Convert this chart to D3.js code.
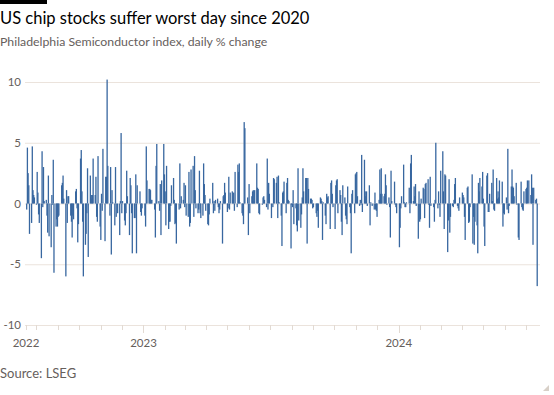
<!DOCTYPE html>
<html>
<head>
<meta charset="utf-8">
<script src="https://cdn.jsdelivr.net/npm/d3@7/dist/d3.min.js"></script>
<style>
  body { margin: 0; background: #fff; }
  svg { display: block; font-family: Lato, 'Open Sans', sans-serif; }
</style>
</head>
<body>
<script>
// chart texts
var title = 'US chip stocks suffer worst day since 2020',
    subtitle = 'Philadelphia Semiconductor index, daily % change',
    source = 'Source: LSEG';

// first trading day shown and the market holidays inside the range
var startDay = '2022-07-18';
var holidays = [
    '2022-09-05', '2022-11-24', '2022-12-26',
    '2023-01-02', '2023-01-16', '2023-02-20', '2023-04-07', '2023-05-29',
    '2023-06-19', '2023-07-04', '2023-09-04', '2023-11-23', '2023-12-25',
    '2024-01-01', '2024-01-15', '2024-02-19', '2024-03-29', '2024-05-27',
    '2024-06-19', '2024-07-04'
];
var dateDomain = ['2022-07-17', '2024-07-21'];

var yTicks = [-10, -5, 0, 5, 10];
var yearTicks = [
    {date: '2022-07-17', label: '2022'},
    {date: '2023-01-01', label: '2023'},
    {date: '2024-01-01', label: '2024'}
];

// daily % change, one per trading day
var dailyChange = [
    -0.5,4.6,2.5,1.5,-2.5,-1.6,4.7,1.1,0.7,0.5,
    -0.1,2.6,0.9,-0.9,-1.6,-4.5,4.3,-0.3,3.0,0.2,
    0.3,-1.0,-2.4,2.3,-2.7,-3.6,0.7,-0.1,3.6,-5.7,
    -1.9,-1.3,-1.9,-1.1,-1.0,1.5,1.7,2.3,0.4,-6.0,
    1.1,-1.6,0.6,0.6,-1.0,-1.5,-2.8,-1.0,-1.3,1.0,
    1.2,-0.4,-3.2,-1.7,3.7,4.4,1.0,-1.5,-6.0,-3.4,
    -2.5,-0.8,2.9,-4.4,2.3,0.4,0.7,0.7,3.7,0.7,
    2.2,-1.1,-1.5,3.9,-1.9,-3.0,0.8,-0.6,4.5,-3.1,
    2.2,2.2,10.2,3.1,-1.0,3.0,-4.2,1.1,0.1,-1.8,
    3.0,-1.1,-0.8,-2.6,0.2,5.8,-0.8,0.2,-1.4,-1.8,
    -0.8,2.7,0.6,-2.6,2.1,1.5,-0.8,-4.1,-1.2,-1.2,
    2.4,-4.1,1.5,1.0,-0.7,-1.0,-0.4,-1.0,-1.9,4.7,
    1.9,1.2,1.2,1.1,0.3,0.3,-0.5,-2.8,3.1,4.9,
    0.2,-0.6,1.6,-2.6,1.9,4.9,2.4,1.0,-1.8,3.1,
    -2.1,-1.5,-1.5,-0.2,1.5,2.1,0.3,-1.7,-1.6,-3.3,
    -0.5,3.3,-0.4,0.6,0.3,1.7,-0.3,1.5,-1.0,-1.1,
    2.6,-1.9,-1.6,2.8,3.1,-1.1,3.9,1.1,-0.4,-0.8,
    -0.5,2.7,-0.8,-1.2,-1.0,3.3,1.6,0.7,-0.6,-1.7,
    -1.8,-0.9,0.4,1.7,-0.8,0.2,-0.6,0.3,0.4,-0.3,
    -0.8,-0.5,0.2,-3.3,0.6,0.7,1.7,0.9,-0.7,-0.4,
    2.2,-0.5,0.9,1.0,0.3,0.9,-0.6,2.6,-0.3,3.2,
    2.6,3.3,0.1,-0.8,-1.0,-1.7,6.7,6.2,0.5,-2.6,
    1.6,-0.8,0.6,1.0,1.1,0.2,1.1,3.3,1.3,1.2,
    -0.8,-0.9,-0.1,0.5,0.6,0.3,-0.3,3.7,
    -0.5,1.7,0.8,-1.2,-0.3,2.1,2.0,1.7,2.2,-1.2,
    2.3,0.1,-1.0,-3.5,0.9,1.0,1.8,-0.8,1.7,2.1,
    0.3,0.2,-3.7,-0.1,-0.3,1.1,-1.7,-0.4,-1.8,-2.3,
    2.9,-1.4,-2.0,-0.9,0.5,2.9,1.0,2.1,2.1,-3.3,
    2.1,1.2,0.4,0.4,0.3,-0.4,-0.3,-0.8,-1.1,-0.6,
    -2.0,0.5,0.4,0.2,-3.0,0.1,-1.0,-1.7,0.8,0.5,
    0.6,-2.1,1.7,1.9,0.8,-0.3,-2.1,1.5,1.9,2.0,
    -0.8,1.1,0.7,-1.5,-2.6,1.5,0.5,-1.0,-1.3,-1.7,
    1.4,-0.3,-0.8,-4.1,0.8,1.1,-0.8,2.4,2.5,2.6,
    0.6,-0.2,0.3,-0.1,4.0,-0.7,3.6,1.0,0.6,1.0,
    -0.2,1.5,-1.8,0.1,-0.2,-0.5,0.9,-0.5,-0.6,-1.1,
    0.3,2.8,0.8,2.9,0.8,0.6,0.8,2.4,1.5,-0.1,
    0.5,-0.3,-2.8,2.7,0.2,1.8,-0.1,-0.3,-0.8,-3.6,
    -2.0,-0.4,0.6,3.2,0.1,-0.3,-0.3,0.1,1.3,-0.8,
    3.3,4.0,0.2,1.4,0.6,1.6,-0.2,-2.9,1.0,-1.5,
    -1.3,0.4,1.3,1.2,-1.2,1.6,1.7,2.0,-0.1,-2.0,
    2.2,-0.2,-0.3,-1.5,0.3,5.0,-0.4,1.0,-0.1,-1.1,
    2.7,4.3,1.0,-2.1,2.4,2.3,-4.0,-1.4,2.0,-2.4,
    -1.1,-0.2,-0.3,0.3,1.6,2.1,-0.2,-0.4,-0.6,0.5,
    0.9,0.7,0.5,-1.1,-3.0,1.3,1.4,-1.6,-1.5,-0.3,
    2.4,-3.3,-1.1,-3.4,-1.5,-1.8,-4.1,1.7,1.0,2.1,
    1.4,2.6,0.4,-1.9,-3.5,
    2.3,2.5,-0.7,-0.7,0.8,1.7,0.2,2.8,-0.5,-0.6,
    2.1,0.4,1.0,0.5,1.9,1.8,-1.9,-0.8,-0.9,0.5,
    -0.5,4.5,-0.8,-0.2,1.4,2.8,1.4,1.3,0.6,1.7,
    -0.1,-2.8,-3.0,1.8,-0.3,-0.5,-0.6,1.0,1.2,1.3,
    1.9,1.9,0.7,2.4,1.3,-3.4,1.3,0.3,0.4,-6.8
];

var width = 554,
    height = 395,
    parse = d3.utcParse('%Y-%m-%d'),
    off = holidays.map(function(d) { return +parse(d); }),
    days = [],
    day = parse(startDay);

// walk the calendar: one bar per trading day
while (days.length < dailyChange.length) {
    var wd = day.getUTCDay();
    if (wd > 0 && wd < 6 && off.indexOf(+day) < 0) days.push(day);
    day = d3.utcDay.offset(day, 1);
}
var bars = dailyChange.map(function(v, i) { return {date: days[i], value: v}; });

var svg = d3.select('body').append('svg')
        .attr('width', width)
        .attr('height', height),
    x = d3.scaleUtc()
        .domain(dateDomain.map(parse))
        .range([26, 540]),
    y = d3.scaleLinear()
        .domain([-10, 10])
        .range([325, 82]);

svg.append('rect')
    .attr('x', 0).attr('y', 0)
    .attr('width', 47).attr('height', 4)
    .attr('fill', '#000');

svg.append('text')
    .attr('x', 0).attr('y', 24)
    .style('font-size', '16.5px')
    .attr('fill', '#000')
    .text(title);

svg.append('text')
    .attr('x', 0).attr('y', 46)
    .style('font-size', '12.3px')
    .attr('fill', '#66605c')
    .text(subtitle);

// grid + y labels
svg.append('g')
    .selectAll('line')
    .data(yTicks)
    .enter()
    .append('line')
    .attr('x1', 25).attr('x2', 540)
    .attr('y1', function(d) { return y(d) + 0.5; })
    .attr('y2', function(d) { return y(d) + 0.5; })
    .attr('stroke', '#ebe3dc')
    .attr('stroke-width', 1);

svg.append('g')
    .selectAll('text')
    .data(yTicks)
    .enter()
    .append('text')
    .attr('x', 21)
    .attr('y', function(d) { return y(d); })
    .attr('dy', '0.36em')
    .style('text-anchor', 'end')
    .style('font-size', '11.5px')
    .attr('fill', '#66605c')
    .text(function(d) { return d; });

// x ticks: one per month, years longer
var monthTicks = [parse(dateDomain[0])].concat(d3.utcMonth.range(parse('2022-08-01'), parse(dateDomain[1])));
svg.append('g')
    .selectAll('line')
    .data(monthTicks)
    .enter()
    .append('line')
    .attr('x1', function(d) { return Math.round(x(d)) + 0.5; })
    .attr('x2', function(d) { return Math.round(x(d)) + 0.5; })
    .attr('y1', 325)
    .attr('y2', function(d) { return d.getUTCMonth() === 0 ? 333 : 330; })
    .attr('stroke', '#e2dad3');

svg.append('g')
    .selectAll('text')
    .data(yearTicks)
    .enter()
    .append('text')
    .attr('x', function(d) { return x(parse(d.date)); })
    .attr('y', 347)
    .style('text-anchor', 'middle')
    .style('font-size', '11.5px')
    .attr('fill', '#66605c')
    .text(function(d) { return d.label; });

// bars
svg.append('g')
    .selectAll('rect')
    .data(bars)
    .enter()
    .append('rect')
    .attr('x', function(d) { return x(d.date) - 0.65; })
    .attr('width', 1.3)
    .attr('y', function(d) { return Math.min(y(d.value), y(0)); })
    .attr('height', function(d) { return Math.abs(y(d.value) - y(0)); })
    .attr('fill', '#3867a0');

svg.append('text')
    .attr('x', 0).attr('y', 378)
    .style('font-size', '13px')
    .attr('fill', '#66605c')
    .text(source);

svg.append('path')
    .attr('d', 'M549,385L549,391L543,391Z')
    .attr('fill', '#d8d0c8');
</script>
</body>
</html>
